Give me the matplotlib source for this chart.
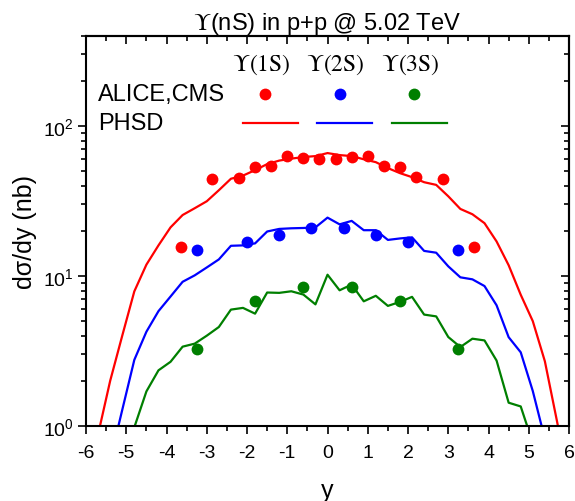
import numpy as np
import matplotlib
matplotlib.use("Agg")
import matplotlib.pyplot as plt
from matplotlib.ticker import MultipleLocator, LogLocator, NullFormatter

plt.rcParams["font.family"] = ["Liberation Sans", "DejaVu Sans"]
plt.rcParams["mathtext.fontset"] = "stix"
plt.rcParams["axes.unicode_minus"] = False

########## DATA ##########
# measured points (ALICE, CMS)
y1s_x = [-3.65, -2.875, -2.2, -1.8, -1.4, -1.0, -0.6, -0.2, 0.2, 0.6, 1.0, 1.4, 1.8, 2.2, 2.875, 3.65]
y1s_val = [15.6, 44.2, 45.1, 53.0, 54.3, 63.0, 61.0, 60.0, 60.0, 62.0, 63.0, 54.0, 53.0, 45.4, 44.4, 15.6]

y2s_x = [-3.25, -2.0, -1.2, -0.4, 0.4, 1.2, 2.0, 3.25]
y2s_val = [15.0, 16.8, 18.9, 20.9, 20.9, 18.9, 16.8, 15.0]

y3s_x = [-3.25, -1.8, -0.6, 0.6, 1.8, 3.25]
y3s_val = [3.27, 6.86, 8.51, 8.51, 6.86, 3.27]

# PHSD rapidity spectra
phsd1_x = [-5.7, -5.4, -5.1, -4.8, -4.5, -4.2, -3.9, -3.6, -3.3, -3.0, -2.7, -2.4, -2.1, -1.8,
           -1.5, -1.2, -0.9, -0.6, -0.3, 0.0, 0.3, 0.6, 0.9, 1.2, 1.5, 1.8, 2.1, 2.4, 2.7,
           3.0, 3.3, 3.6, 3.9, 4.2, 4.5, 4.8, 5.1, 5.4, 5.7, 6.0]
phsd1 = [0.88, 2.0, 4.0, 7.9, 11.9, 16.0, 21.1, 25.5, 28.3, 31.5, 37.3, 44.5, 46.7, 50.8,
         55.7, 58.8, 60.6, 62.1, 63.0, 66.0, 64.0, 63.0, 60.0, 57.4, 52.4, 48.5, 45.6, 42.2, 40.5,
         34.0, 28.0, 25.8, 22.5, 17.0, 11.8, 7.5, 5.0, 2.7, 1.08, 0.42]

phsd2_x = [-5.4, -5.1, -4.8, -4.5, -4.2, -3.9, -3.6, -3.3, -3.0, -2.7, -2.4, -2.1, -1.8,
           -1.5, -1.2, -0.9, -0.6, -0.3, 0.0, 0.3, 0.6, 0.9, 1.2, 1.5, 1.8, 2.1, 2.4, 2.7,
           3.0, 3.3, 3.6, 3.9, 4.2, 4.5, 4.8, 5.1, 5.4]
phsd2 = [0.59, 1.28, 2.76, 4.25, 5.83, 7.3, 9.15, 10.1, 11.4, 12.9, 15.9, 16.0, 16.5,
         19.8, 20.6, 20.8, 20.9, 21.1, 24.5, 22.1, 23.3, 20.2, 20.2, 17.4, 17.8, 18.1, 14.7, 14.3,
         11.6, 9.8, 9.5, 8.57, 6.38, 3.91, 3.10, 1.71, 0.82]

phsd3_x = [-5.1, -4.8, -4.5, -4.2, -3.9, -3.6, -3.3, -3.0, -2.7, -2.4, -2.1, -1.8,
           -1.5, -1.2, -0.9, -0.6, -0.3, 0.0, 0.3, 0.6, 0.9, 1.2, 1.5, 1.8, 2.1, 2.4, 2.7,
           3.0, 3.3, 3.6, 3.9, 4.2, 4.5, 4.8, 5.1]
phsd3 = [0.55, 0.98, 1.7, 2.35, 2.68, 3.38, 3.54, 4.0, 4.57, 5.97, 6.13, 5.61,
         7.76, 7.72, 7.91, 7.52, 6.47, 10.2, 8.03, 8.77, 6.78, 7.38, 6.32, 6.72, 7.26, 5.53, 5.38,
         3.92, 3.36, 3.82, 3.72, 2.73, 1.43, 1.35, 0.77]

states = [r"$\Upsilon\mathrm{(1S)}$", r"$\Upsilon\mathrm{(2S)}$", r"$\Upsilon\mathrm{(3S)}$"]
colors = ["#FF0000", "#0000FF", "#007F00"]
###### END DATA ##########

fig = plt.figure(figsize=(5.75, 5.02), dpi=100)
ax = fig.add_axes([0.1496, 0.1494, 0.84, 0.7775])

data = [(y1s_x, y1s_val, phsd1_x, phsd1),
        (y2s_x, y2s_val, phsd2_x, phsd2),
        (y3s_x, y3s_val, phsd3_x, phsd3)]
for (px, pv, lx, lv), c in zip(data, colors):
    ax.plot(lx, lv, color=c, lw=1.6, zorder=2)
    ax.plot(px, pv, "o", color=c, ms=8.5, mec="none", zorder=3)

ax.set_yscale("log")
ax.set_xlim(-6, 6)
ax.set_ylim(1, 400)
ax.xaxis.set_major_locator(MultipleLocator(1))
ax.xaxis.set_minor_locator(MultipleLocator(0.5))
ax.yaxis.set_major_locator(LogLocator(base=10, numticks=10))
ax.yaxis.set_minor_locator(LogLocator(base=10, subs=np.arange(2, 10), numticks=10))
ax.yaxis.set_minor_formatter(NullFormatter())

for s in ax.spines.values():
    s.set_linewidth(1.5)
ax.tick_params(which="both", direction="out", width=1.2, labelsize=14, top=False, right=False)
ax.tick_params(which="major", length=6)
ax.tick_params(which="minor", length=3.5)
ax.tick_params(axis="x", pad=7)
ax.tick_params(axis="y", pad=3)

# mirrored ticks pointing inward on top and right
top = ax.secondary_xaxis("top")
top.xaxis.set_major_locator(MultipleLocator(1))
top.xaxis.set_minor_locator(MultipleLocator(0.5))
top.tick_params(which="both", direction="in", width=1.2, labeltop=False)
top.tick_params(which="major", length=6)
top.tick_params(which="minor", length=3.5)
top.spines["top"].set_linewidth(1.5)

right = ax.secondary_yaxis("right")
right.yaxis.set_major_locator(LogLocator(base=10, numticks=10))
right.yaxis.set_minor_locator(LogLocator(base=10, subs=np.arange(2, 10), numticks=10))
right.tick_params(which="both", direction="in", width=1.2, labelright=False)
right.tick_params(which="major", length=6)
right.tick_params(which="minor", length=3.5)
right.spines["right"].set_linewidth(1.5)

ax.set_xlabel("y", fontsize=18, labelpad=12)
ax.set_ylabel("dσ/dy (nb)", fontsize=18, labelpad=4)
ax.set_title(r"$\Upsilon$(nS) in p+p @ 5.02 TeV", fontsize=17, pad=5)

# legend table: column headers, data markers and model lines
tr = ax.transAxes
ax.text(0.025, 0.851, "ALICE,CMS", transform=tr, fontsize=17, va="center", ha="left")
ax.text(0.025, 0.777, "PHSD", transform=tr, fontsize=17, va="center", ha="left")
hdr_x = [0.362, 0.516, 0.671]
for hx, lab, c in zip(hdr_x, states, colors):
    ax.text(hx, 0.928, lab, transform=tr, fontsize=17, ha="center", va="center")
    ax.plot([hx + 0.009], [0.851], "o", color=c, ms=8.5, mec="none", transform=tr)
    ax.plot([hx - 0.038, hx + 0.076], [0.777, 0.777], color=c, lw=1.6, transform=tr)

fig.savefig("out.png", dpi=100)
